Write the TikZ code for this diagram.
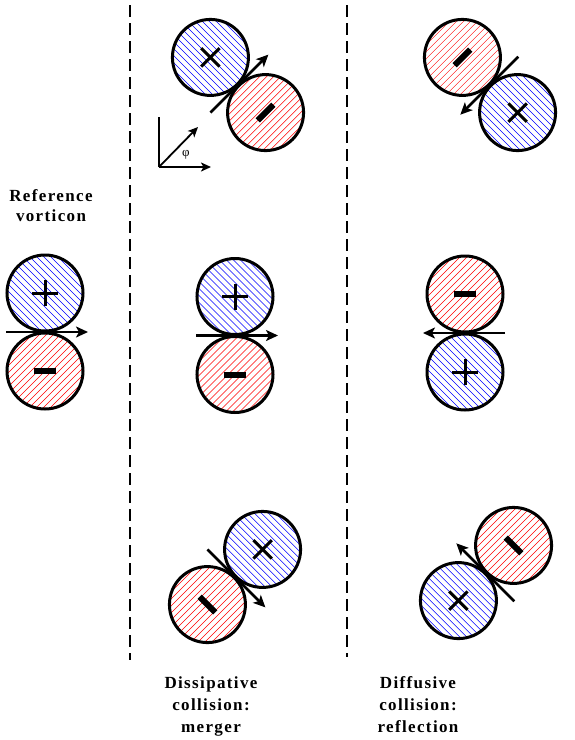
\documentclass[tikz,border=0pt]{standalone}
\usepackage{fontspec}
\setmainfont{Liberation Serif}
\usetikzlibrary{arrows.meta}
\newcommand\pairA[4]{%
 \begin{scope}[shift={(#2,#3)},rotate=#4]
  \coordinate (#1-u) at (0,-39); \coordinate (#1-d) at (0,39);
  \coordinate (#1-t) at (-39,0); \coordinate (#1-h) at (43,0);
 \end{scope}
 \node[posv] (#1-pos) at (#1-u) {};
 \node[negv] (#1-neg) at (#1-d) {};
 \draw[tangent] (#1-t) -- (#1-h);
 \begin{scope}[shift={(#2,#3)},rotate=#4]
  \draw[plussign] (-13,-39) -- (13,-39) (0,-52) -- (0,-26);
  \draw[minussign] (-11,39) -- (11,39);
 \end{scope}}
\newcommand\pairB[4]{%
 \begin{scope}[shift={(#2,#3)},rotate=#4]
  \coordinate (#1-u) at (0,-39); \coordinate (#1-d) at (0,39);
  \coordinate (#1-t) at (40,0); \coordinate (#1-h) at (-42,0);
 \end{scope}
 \node[negv] (#1-neg) at (#1-u) {};
 \node[posv] (#1-pos) at (#1-d) {};
 \draw[tangent] (#1-t) -- (#1-h);
 \begin{scope}[shift={(#2,#3)},rotate=#4]
  \draw[minussign] (-11,-39) -- (11,-39);
  \draw[plussign] (-13,39) -- (13,39) (0,26) -- (0,52);
 \end{scope}}
\tikzset{
 vort/.style={circle, draw, line width=3pt, minimum size=76pt, inner sep=0pt},
 posv/.style={vort, path picture={\foreach \s in {-98,-91,...,98}
   \draw[blue, line width=0.5pt] ([shift={(\s-50,-50)}]path picture bounding box.center) -- ++(100,100);}},
 negv/.style={vort, path picture={\foreach \s in {-98,-91,...,98}
   \draw[red, line width=0.5pt] ([shift={(\s-50,50)}]path picture bounding box.center) -- ++(100,-100);}},
 plussign/.style={line width=3pt},
 minussign/.style={line width=6pt},
 tangent/.style={line width=2.6pt, -{Stealth[length=12pt,width=11pt,inset=3pt]}},
 axisline/.style={line width=1.8pt},
 axisarrow/.style={line width=1.8pt, -{Stealth[length=10pt,width=9pt,inset=2.5pt]}},
 divider/.style={line width=2.5pt, dash pattern=on 12pt off 6pt},
 caption/.style={align=center, inner sep=0pt, anchor=north,
   font=\bfseries\fontsize{17}{22}\selectfont\addfontfeatures{LetterSpace=8}}
}
\begin{document}
\begin{tikzpicture}[x=1pt,y=-1pt]
\path[fill=white] (0,0) rectangle (575,740);
\useasboundingbox (0,0) rectangle (575,740);
% dividers
\coordinate (d1a) at (130,5); \coordinate (d1b) at (130,660);
\coordinate (d2a) at (347,5); \coordinate (d2b) at (347,657);
\draw[divider] (d1a) -- (d1b);
\draw[divider] (d2a) -- (d2b);
% pairs
\pairA{ref}{45}{332}{0}
\pairA{mid}{235}{335.5}{0}
\pairB{rgt}{465}{333}{0}
\pairA{tm}{238}{85}{45}
\pairB{tr}{490}{85}{45}
\pairA{bm}{235}{577}{-45}
\pairB{br}{486}{573}{-45}
% axes
\coordinate (o) at (159,167);
\coordinate (ax) at (211,167);
\coordinate (ay) at (159,117);
\coordinate (ad) at (198,127);
\draw[axisline] (o) -- (ay);
\draw[axisarrow] (o) -- (ax);
\draw[axisarrow] (o) -- (ad);
\node[font=\fontsize{13}{15}\selectfont, inner sep=0pt] (phi) at (186,155) {φ};
% captions
\node[caption, font=\bfseries\fontsize{17}{20.5}\selectfont\addfontfeatures{LetterSpace=8}] (reflab) at (51,189) {Reference\\vorticon};
\node[caption] (dislab) at (211,676) {Dissipative\\collision:\\merger};
\node[caption] (difflab) at (418,676) {Diffusive\\collision:\\reflection};
\end{tikzpicture}
\end{document}
